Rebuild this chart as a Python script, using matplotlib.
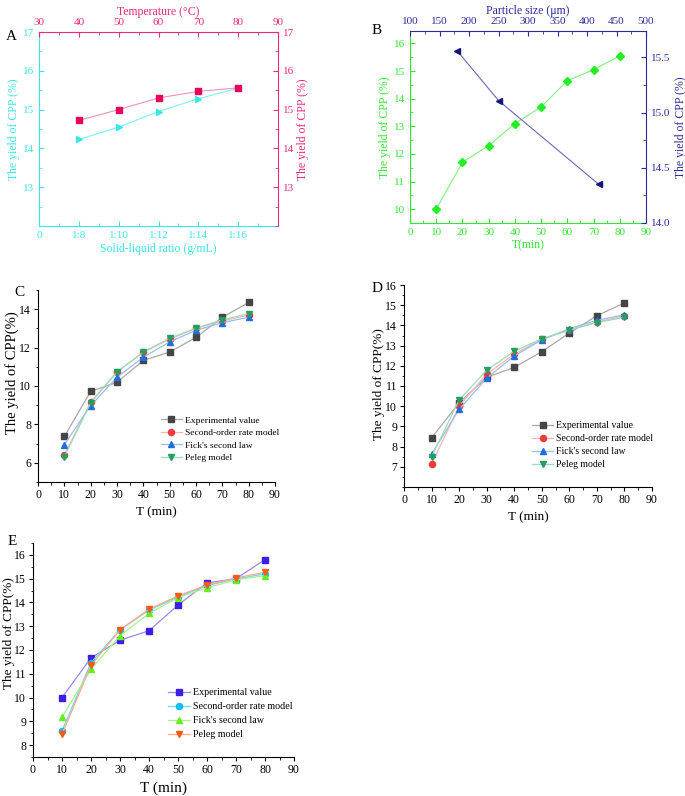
import matplotlib
matplotlib.use("Agg")
import matplotlib.pyplot as plt
from matplotlib.ticker import MultipleLocator, AutoMinorLocator

plt.rcParams['font.family'] = ['Liberation Serif', 'DejaVu Serif']
plt.rcParams['font.size'] = 8

W, H = 685, 796

# ---- data ----
# panel A
ratio_pos = [1, 2, 3, 4, 5]
ratio_labels = ['0', '1:8', '1:10', '1:12', '1:14', '1:16']
yield_ratio = [14.23, 14.55, 14.95, 15.28, 15.55]
temperature = [40, 50, 60, 70, 80]
yield_temp = [14.72, 15.0, 15.3, 15.47, 15.56]

# panel B
time_b = [10, 20, 30, 40, 50, 60, 70, 80]
yield_time_b = [10.0, 11.7, 12.3, 13.1, 13.7, 14.65, 15.05, 15.55]
particle_size = [180, 250, 420]
yield_particle = [15.56, 15.11, 14.35]

# panels C, D, E (kinetic models)
T = [10, 20, 30, 40, 50, 60, 70, 80]
series_names = ['Experimental value', 'Second-order rate model',
                "Fick's second law", 'Peleg model']

c_exp = [7.37, 9.72, 10.19, 11.33, 11.77, 12.53, 13.58, 14.35]
c_second = [6.40, 9.17, 10.74, 11.75, 12.44, 13.0, 13.39, 13.69]
c_fick = [6.95, 8.98, 10.45, 11.50, 12.30, 12.90, 13.30, 13.58]
c_peleg = [6.31, 9.12, 10.74, 11.77, 12.49, 13.01, 13.45, 13.76]

d_exp = [8.43, 10.17, 11.43, 11.92, 12.70, 13.62, 14.48, 15.11]
d_second = [7.12, 10.01, 11.59, 12.58, 13.31, 13.77, 14.17, 14.47]
d_fick = [7.62, 9.84, 11.38, 12.49, 13.28, 13.84, 14.25, 14.53]
d_peleg = [7.50, 10.31, 11.78, 12.72, 13.34, 13.77, 14.14, 14.40]

e_exp = [10.0, 11.67, 12.41, 12.81, 13.89, 14.82, 15.0, 15.80]
e_second = [8.59, 11.47, 12.85, 13.68, 14.23, 14.71, 14.99, 15.20]
e_fick = [9.18, 11.19, 12.60, 13.54, 14.20, 14.62, 14.95, 15.13]
e_peleg = [8.45, 11.36, 12.85, 13.71, 14.28, 14.73, 15.03, 15.27]


def rect(x0, y0, x1, y1):
    return [x0 / W, 1 - y1 / H, (x1 - x0) / W, (y1 - y0) / H]


fig = plt.figure(figsize=(W / 100, H / 100), dpi=100)

# ---------------- A ----------------
cyan = '#3ce6e6'
pink = '#f0287a'
axA = fig.add_axes(rect(39, 32, 278, 226))
axA2 = fig.add_axes(rect(39, 32, 278, 226), frameon=False)
axA.plot(ratio_pos, yield_ratio, color='#80f0f0', lw=0.8, marker='>',
         ms=5, mfc=cyan, mec=cyan)
axA2.plot(temperature, yield_temp, color='#f590b8', lw=0.8, marker='s',
          ms=4.5, mfc='#e8005a', mec='#e8005a')
axA.set_xlim(0, 6)
axA.set_ylim(12, 17)
axA.set_xticks(range(6))
axA.set_xticklabels(ratio_labels)
axA.xaxis.set_minor_locator(MultipleLocator(0.5))
axA.set_yticks([13, 14, 15, 16, 17])
axA.yaxis.set_minor_locator(MultipleLocator(0.5))
axA2.set_xlim(30, 90)
axA2.set_ylim(12, 17)
axA2.set_xticks(range(30, 91, 10))
axA2.xaxis.set_minor_locator(MultipleLocator(5))
axA2.set_yticks([13, 14, 15, 16, 17])
axA2.yaxis.set_minor_locator(MultipleLocator(0.5))
axA2.xaxis.tick_top()
axA2.yaxis.tick_right()
axA2.xaxis.set_label_position('top')
axA2.yaxis.set_label_position('right')
axA.spines['left'].set_color(cyan)
axA.spines['bottom'].set_color(cyan)
axA.spines['top'].set_color(pink)
axA.spines['right'].set_color(pink)
axA.tick_params(which='both', direction='in', colors=cyan, labelsize=8)
axA.tick_params(which='minor', length=2)
axA.tick_params(which='major', length=3.5)
axA2.tick_params(which='both', direction='in', colors=pink, labelsize=8)
axA2.tick_params(which='minor', length=2)
axA2.tick_params(which='major', length=3.5)
axA.set_xlabel('Solid-liquid ratio (g/mL)', color=cyan, fontsize=8.5, labelpad=2)
axA.set_ylabel('The yield of CPP (%)', color=cyan, fontsize=8.5, labelpad=2)
axA2.set_xlabel('Temperature (°C)', color=pink, fontsize=8.5, labelpad=2)
axA2.set_ylabel('The yield of CPP (%)', color=pink, fontsize=8.5, labelpad=2)
fig.text(6 / W, 1 - 40 / H, 'A', fontsize=11)

# ---------------- B ----------------
green = '#33e833'
navy = '#2a2a9c'
axB = fig.add_axes(rect(410, 31, 646, 223))
axB2 = fig.add_axes(rect(410, 31, 646, 223), frameon=False)
axB.plot(time_b, yield_time_b, color='#80f080', lw=0.8, marker='D',
         ms=3.8, mfc='#22ee22', mec='#22ee22')
axB2.plot(particle_size, yield_particle, color='#6868b8', lw=0.8, marker='<',
          ms=5, mfc='#14147a', mec='#14147a')
axB.set_xlim(0, 90)
axB.set_ylim(9.5, 16.45)
axB.set_xticks(range(0, 91, 10))
axB.xaxis.set_minor_locator(MultipleLocator(5))
axB.set_yticks(range(10, 17))
axB.yaxis.set_minor_locator(MultipleLocator(0.5))
axB2.set_xlim(100, 500)
axB2.set_ylim(14.0, 15.74)
axB2.set_xticks(range(100, 501, 50))
axB2.xaxis.set_minor_locator(MultipleLocator(25))
axB2.set_yticks([14.0, 14.5, 15.0, 15.5])
axB2.set_yticklabels(['14.0', '14.5', '15.0', '15.5'])
axB2.yaxis.set_minor_locator(MultipleLocator(0.25))
axB2.xaxis.tick_top()
axB2.yaxis.tick_right()
axB2.xaxis.set_label_position('top')
axB2.yaxis.set_label_position('right')
axB.spines['left'].set_color(green)
axB.spines['bottom'].set_color(green)
axB.spines['top'].set_color(navy)
axB.spines['right'].set_color(navy)
axB.tick_params(which='both', direction='in', colors=green, labelsize=8)
axB.tick_params(which='minor', length=2)
axB.tick_params(which='major', length=3.5)
axB2.tick_params(which='both', direction='in', colors=navy, labelsize=8)
axB2.tick_params(which='minor', length=2)
axB2.tick_params(which='major', length=3.5)
axB.set_xlabel('T(min)', color=green, fontsize=8.5, labelpad=2)
axB.set_ylabel('The yield of CPP (%)', color=green, fontsize=8.5, labelpad=2)
axB2.set_xlabel('Particle size (μm)', color=navy, fontsize=8.5, labelpad=2)
axB2.set_ylabel('The yield of CPP (%)', color=navy, fontsize=8.5, labelpad=3)
fig.text(372 / W, 1 - 34 / H, 'B', fontsize=11)


# ---------------- C, D, E ----------------
def kinetic(ax, data, styles, ylim, yticks, legend_xy, tick_fs, xlab_fs,
            ylab_fs, ylab_xy, leg_fs, leg_sp):
    for vals, name, (mk, mcol, lcol) in zip(data, series_names, styles):
        ax.plot(T, vals, color=lcol, lw=0.9, marker=mk, ms=4.4,
                mfc=mcol, mec=mcol, label=name)
    ax.set_xlim(0, 90)
    ax.set_ylim(*ylim)
    ax.set_xticks(range(0, 91, 10))
    ax.xaxis.set_minor_locator(MultipleLocator(5))
    ax.set_yticks(yticks)
    ax.yaxis.set_minor_locator(AutoMinorLocator(2))
    for s in ['top', 'right']:
        ax.spines[s].set_visible(False)
    ax.spines['left'].set_linewidth(0.8)
    ax.spines['bottom'].set_linewidth(0.8)
    ax.tick_params(which='both', direction='out', labelsize=tick_fs, pad=2)
    ax.tick_params(which='major', length=3)
    ax.tick_params(which='minor', length=1.8)
    ax.set_xlabel('T (min)', fontsize=xlab_fs)
    ax.set_ylabel('The yield of CPP(%)', fontsize=ylab_fs)
    # label anchor is the baseline side of the rotated text
    ax.yaxis.set_label_coords(*ylab_xy)
    ax.legend(loc='upper left', bbox_to_anchor=legend_xy, frameon=False,
              fontsize=leg_fs, handlelength=2.2, handletextpad=0.3,
              labelspacing=leg_sp, borderpad=0, borderaxespad=0)


cd_styles = [('s', '#454545', '#a8a8a8'), ('o', '#f03a3a', '#ffb4b4'),
             ('^', '#1e6ee0', '#98bcf0'), ('v', '#22a060', '#98dcb8')]
e_styles = [('s', '#3c1ee6', '#9888f0'), ('o', '#0ec0f0', '#6cd8f8'),
            ('^', '#66ee22', '#a8f090'), ('v', '#ff5a14', '#ffa888')]

axC = fig.add_axes(rect(38, 290, 275, 482))
kinetic(axC, [c_exp, c_second, c_fick, c_peleg], cd_styles, (5, 15),
        [6, 8, 10, 12, 14], ((161 - 38) / 237, (482 - 416) / 192),
        8.5, 9.5, 10.5, ((19 - 38) / 237, 0.57), 6.8, 0.42)
fig.text(14 / W, 1 - 296 / H, 'C', fontsize=11)

axD = fig.add_axes(rect(404, 285, 652, 487))
kinetic(axD, [d_exp, d_second, d_fick, d_peleg], cd_styles, (6, 16),
        list(range(7, 17)), ((532 - 404) / 248, (487 - 421) / 202),
        8.5, 9.5, 9.5, ((385 - 404) / 248, 0.51), 7, 0.42)
fig.text(372 / W, 1 - 292 / H, 'D', fontsize=11)

axE = fig.add_axes(rect(33, 543, 294, 757))
kinetic(axE, [e_exp, e_second, e_fick, e_peleg], e_styles, (7.5, 16.5),
        list(range(8, 17)), ((168 - 33) / 261, (757 - 688) / 214),
        8.5, 11, 9.5, ((15 - 33) / 261, 0.58), 7.2, 0.5)
fig.text(8 / W, 1 - 545 / H, 'E', fontsize=11)

fig.savefig('out.png', dpi=100)
